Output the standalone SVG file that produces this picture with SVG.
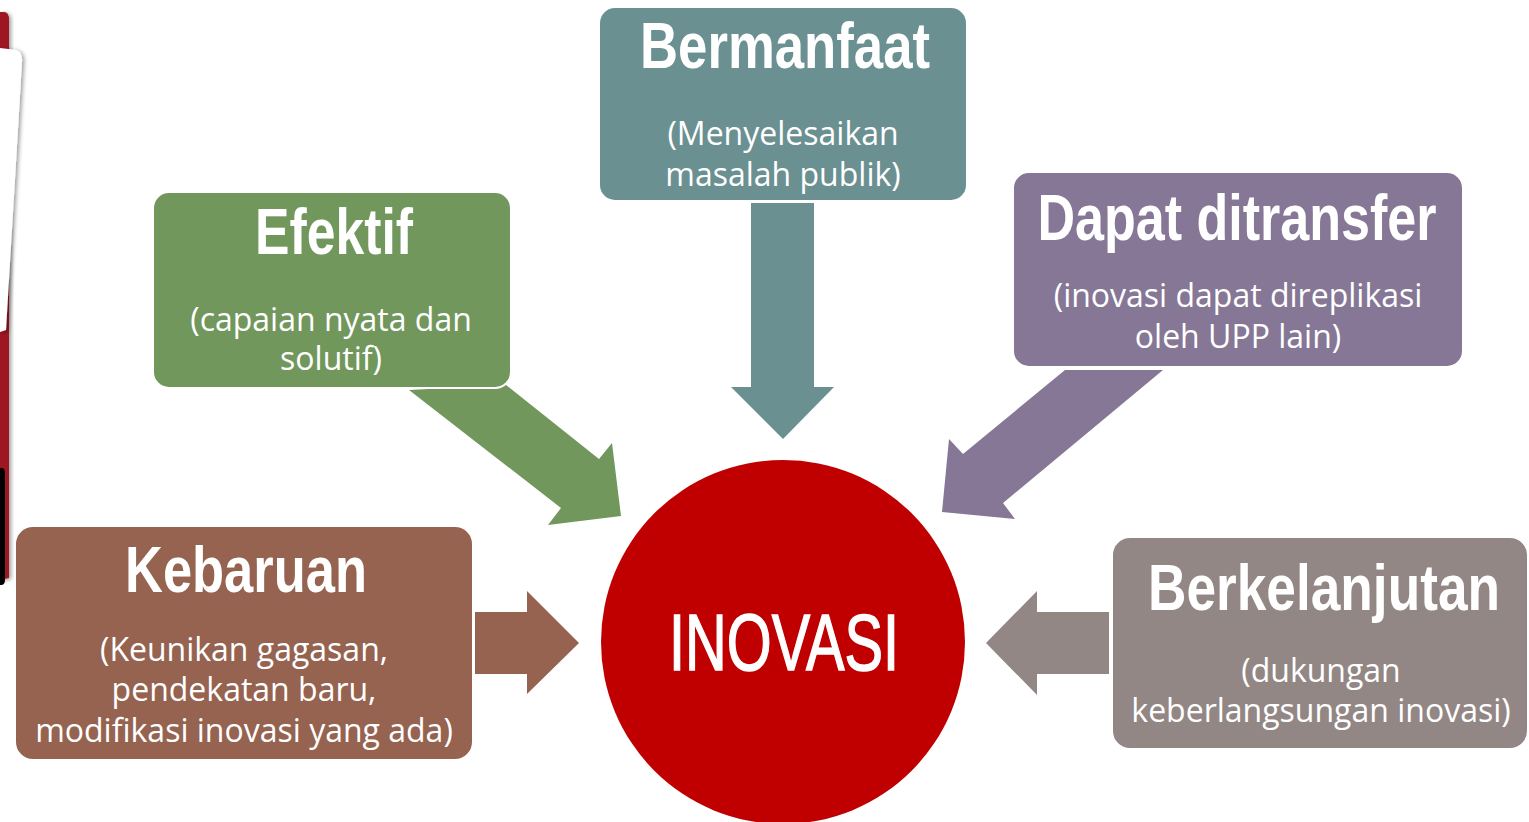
<svg xmlns="http://www.w3.org/2000/svg" width="1529" height="822" viewBox="0 0 1529 822">
<style>
.title{font-family:"Liberation Sans",Arial,sans-serif;font-weight:bold;font-size:64px;fill:#fff;text-anchor:middle}
.sub{font-family:"Open Sans","Liberation Sans",sans-serif;font-size:32px;fill:#fff;text-anchor:middle}
.box{stroke:#fff;stroke-width:2}
</style>
<defs>
<filter id="sh" x="-50%" y="-10%" width="200%" height="120%">
<feGaussianBlur in="SourceAlpha" stdDeviation="2"/>
<feOffset dx="2" dy="1"/>
<feComponentTransfer><feFuncA type="linear" slope="0.4"/></feComponentTransfer>
<feMerge><feMergeNode/><feMergeNode in="SourceGraphic"/></feMerge>
</filter>
</defs>
<rect width="1529" height="822" fill="#fff"/>
<g id="slide-edge">
<path d="M0,12 H4 Q9,12 9,20 V578 L0,580 Z" fill="#9E1420" filter="url(#sh)"/>
<path d="M0,468 H2 Q5,468 5,474 V580 Q5,585 1,585 H0 Z" fill="#000"/>
<path d="M0,48 L16,50 Q23,52 22,62 L6,330 L0,332 Z" fill="#fff" filter="url(#sh)"/>
</g>
<g id="connectors">
<polygon points="751,203 814,203 814,387 834,387 783,439 731,387 751,387" fill="#6A9092"/>
<polygon points="409,390 506,385 599,459 612,443 621,516 548,525 561,508" fill="#71975D"/>
<polygon points="1065,370 1163,370 1003,503 1015,519 942,512 949,439 963,454" fill="#857795"/>
<polygon points="475,612 527,612 527,591 579,643 527,694 527,674 475,674" fill="#956350"/>
<polygon points="1109,612 1037,612 1037,591 986,643 1037,695 1037,674 1109,674" fill="#938785"/>
</g>
<g id="bermanfaat">
<rect class="box" x="599" y="7" width="368" height="194" rx="16" fill="#6A9092"/>
<text class="title" x="785" y="68" textLength="290" lengthAdjust="spacingAndGlyphs">Bermanfaat</text>
<text class="sub" x="783" y="145">(Menyelesaikan</text>
<text class="sub" x="783" y="186">masalah publik)</text>
</g>
<g id="efektif">
<rect class="box" x="153" y="192" width="358" height="196" rx="16" fill="#71975D"/>
<text class="title" x="334" y="254" textLength="158" lengthAdjust="spacingAndGlyphs">Efektif</text>
<text class="sub" x="331" y="331">(capaian nyata dan</text>
<text class="sub" x="331" y="370">solutif)</text>
</g>
<g id="dapat-ditransfer">
<rect class="box" x="1013" y="172" width="450" height="195" rx="16" fill="#857795"/>
<text class="title" x="1237" y="240" textLength="399" lengthAdjust="spacingAndGlyphs">Dapat ditransfer</text>
<text class="sub" x="1238" y="307">(inovasi dapat direplikasi</text>
<text class="sub" x="1238" y="348">oleh UPP lain)</text>
</g>
<g id="kebaruan">
<rect class="box" x="15" y="526" width="458" height="234" rx="18" fill="#956350"/>
<text class="title" x="246" y="592" textLength="242" lengthAdjust="spacingAndGlyphs">Kebaruan</text>
<text class="sub" x="244" y="661">(Keunikan gagasan,</text>
<text class="sub" x="244" y="701">pendekatan baru,</text>
<text class="sub" x="244" y="742">modifikasi inovasi yang ada)</text>
</g>
<g id="berkelanjutan">
<rect class="box" x="1112" y="537" width="416" height="212" rx="18" fill="#938785"/>
<text class="title" transform="translate(1324,610) scale(0.832,1)" x="0" y="0">Berkelanjutan</text>
<text class="sub" x="1321" y="682">(dukungan</text>
<text class="sub" x="1321" y="722">keberlangsungan inovasi)</text>
</g>
<g id="inovasi">
<circle cx="783" cy="642" r="182" fill="#C00000"/>
<text x="784" y="670" font-family="Liberation Sans,Arial,sans-serif" font-size="80" fill="#fff" stroke="#fff" stroke-width="1.5" text-anchor="middle" textLength="230" lengthAdjust="spacingAndGlyphs">INOVASI</text>
</g>
</svg>
